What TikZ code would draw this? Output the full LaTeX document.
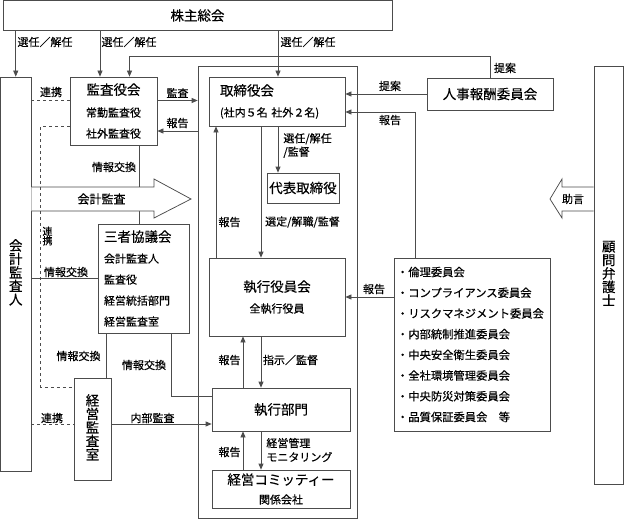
\documentclass[tikz,border=0pt]{standalone}
\usepackage{fontspec}
\setmainfont{Noto Sans CJK JP}[FakeBold=0.4]
\usetikzlibrary{positioning,arrows.meta}

\newcommand{\sm}{\fontsize{11}{21}\selectfont}
\newcommand{\ttl}{\fontsize{13.5}{16}\selectfont}
\newcommand{\tc}[1]{\hbox{\vrule height10.3pt depth3.2pt width0pt\smash{#1}}}
\newcommand{\tate}[1]{\vbox{\offinterlineskip\fontsize{13.5}{13.5}\selectfont #1}}

\begin{document}
\begin{tikzpicture}[x=1pt,y=-1pt,>={Triangle[length=6pt,width=5pt]},line width=0.75pt,
    box/.style={draw=black!70,inner sep=0pt,align=center,font=\sm},
    lbl/.style={font=\sm,inner sep=0pt},
    ln/.style={draw=black!70},
    lnk/.style={draw=black!70,dashed}]
     \useasboundingbox (0,0) rectangle (624,519);
     \node[box,minimum width=159,minimum height=452] (frame) at (277.5,292) {};
     \node[box,font=\ttl,minimum width=389,minimum height=30] (kabunushi) at (197.5,15.5) {株主総会};
     \node[box,minimum width=30.5,minimum height=394] (kaikei) at (15.75,274) {\tate{\tc{会}\tc{計}\tc{監}\tc{査}\tc{人}}};
     \node[box,minimum width=29.5,minimum height=418] (komon) at (608.75,275) {\tate{\tc{顧}\tc{問}\tc{弁}\tc{護}\tc{士}}};
     \node[box,minimum width=87,minimum height=68] (kansayaku) at (113.5,111) {{\ttl 監査役会}\\[1pt]常勤監査役\\社外監査役};
     \node[box,align=left,text width=114,inner xsep=11,minimum height=49] (torishimari) at (277,101.5) {{\ttl 取締役会}\\(社内５名 社外２名)};
     \node[box,font=\ttl,minimum width=126,minimum height=32] (jinji) at (490,94) {人事報酬委員会};
     \node[box,font=\ttl,minimum width=72,minimum height=30] (daihyo) at (303,188) {代表取締役};
     \node[box,minimum width=136,minimum height=78] (shikko) at (277,297) {{\ttl 執行役員会}\\全執行役員};
     \node[box,align=left,text width=79,inner xsep=6,minimum height=109] (sansha) at (143.5,278.5) {{\ttl 三者協議会}\\会計監査人\\監査役\\経営統括部門\\経営監査室};
     \node[box,align=left,text width=150,inner xsep=3,minimum height=173,font=\fontsize{11.3}{20.7}\selectfont] (iinkai) at (472,344.5)
        {・倫理委員会\\・コンプライアンス委員会\\・リスクマネジメント委員会\\・内部統制推進委員会\\・中央安全衛生委員会\\・全社環境管理委員会\\・中央防災対策委員会\\・品質保証委員会　等};
     \node[box,font=\ttl,minimum width=138,minimum height=43] (bumon) at (281,409.5) {執行部門};
     \node[box,minimum width=138,minimum height=38] (committee) at (281,489) {{\ttl 経営コミッティー}\\[-2pt]関係会社};
     \node[box,minimum width=37,minimum height=102] (keieikansa) at (92.5,429) {\tate{\tc{経}\tc{営}\tc{監}\tc{査}\tc{室}}};

     \draw[ln,->] (kabunushi.south -| kaikei.north) -- (kaikei.north);
     \draw[ln,->] (kabunushi.south -| 100,0) -- (kansayaku.north -| 100,0);
     \draw[ln,->] (kabunushi.south -| 278,0) -- (torishimari.north -| 278,0);
     \draw[ln,->] (jinji.north) |- (129.5,56) -- (kansayaku.north -| 129.5,0);
     \draw[lnk] (kaikei.east |- 0,100) -- (kansayaku.west |- 0,100);
     \draw[ln,->] (kansayaku.east |- 0,100.5) -- (frame.west |- 0,100.5);
     \draw[ln,->] (frame.west |- 0,131) -- (kansayaku.east |- 0,131);
     \draw[ln] (kansayaku.south -| 139,0) -- (sansha.north -| 139,0);
     \draw[ln,fill=white] (kaikei.east |- 0,187) -- (154,187) -- (154,179) -- (191,199) -- (154,218) -- (154,211) -- (kaikei.east |- 0,211);
     \draw[lnk] (kansayaku.west |- 0,126) -| (40.7,387) -- (keieikansa.west |- 0,387);
     \draw[ln] (kaikei.east |- 0,278) -- (sansha.west |- 0,278);
     \draw[ln] (sansha.south -| 106,0) -- (keieikansa.north -| 106,0);
     \draw[ln] (sansha.south -| 171,0) |- (bumon.west |- 0,396);
     \draw[lnk] (kaikei.east |- 0,424) -- (keieikansa.west |- 0,424);
     \draw[ln,->] (keieikansa.east |- 0,424) -- (bumon.west |- 0,424);
     \draw[ln,->] (jinji.west) -- (torishimari.east |- jinji.west);
     \draw[ln,->] (iinkai.north -| 415,0) |- (torishimari.east |- 0,112);
     \draw[ln,->] (iinkai.west |- 0,297) -- (shikko.east |- 0,297);
     \draw[ln,->] (shikko.north -| 216,0) -- (torishimari.south -| 216,0);
     \draw[ln,->] (torishimari.south -| 261,0) -- (shikko.north -| 261,0);
     \draw[ln,->] (torishimari.south -| 278,0) -- (daihyo.north -| 278,0);
     \draw[ln,->] (bumon.north -| 243,0) -- (shikko.south -| 243,0);
     \draw[ln,->] (shikko.south -| 261,0) -- (bumon.north -| 261,0);
     \draw[ln,->] (committee.north -| 243,0) -- (bumon.south -| 243,0);
     \draw[ln,->] (bumon.south -| 261,0) -- (committee.north -| 261,0);
     \draw[ln,fill=white] (komon.west |- 0,187) -- (562,187) -- (562,179) -- (550,199) -- (562,218) -- (562,211) -- (komon.west |- 0,211);

     \node[lbl] (l_sennin1) at (45,42) {選任／解任};
     \node[lbl] (l_sennin2) at (129,42) {選任／解任};
     \node[lbl] (l_sennin3) at (308,42) {選任／解任};
     \node[lbl] (l_teian1) at (505,68) {提案};
     \node[lbl] (l_renkei1) at (51,92) {連携};
     \node[lbl] (l_kansa) at (177.5,93) {監査};
     \node[lbl] (l_hokoku1) at (177.5,123) {報告};
     \node[lbl] (l_teian2) at (390,86) {提案};
     \node[lbl] (l_hokoku2) at (390,120) {報告};
     \node[lbl,align=left,font=\fontsize{11}{13.5}\selectfont,anchor=west] (l_sennin4) at (283,145.5) {選任/解任\\/監督};
     \node[lbl] (l_joho1) at (114,167) {情報交換};
     \node[lbl,font=\fontsize{12}{14}\selectfont] (l_kaikeikansa) at (101.5,199) {会計監査};
     \node[lbl] (l_jogen) at (573,199) {助言};
     \node[lbl] (l_hokoku3) at (229.5,222) {報告};
     \node[lbl] (l_sentei) at (302.5,222) {選定/解職/監督};
     \node[lbl,align=center,font=\fontsize{10}{9.5}\selectfont] (l_renkei2) at (47.5,236) {連\\携};
     \node[lbl] (l_joho2) at (66,272) {情報交換};
     \node[lbl] (l_hokoku4) at (374,289) {報告};
     \node[lbl] (l_joho3) at (78.5,356) {情報交換};
     \node[lbl] (l_hokoku5) at (229.5,360) {報告};
     \node[lbl] (l_shiji) at (290.5,360) {指示／監督};
     \node[lbl] (l_joho4) at (144,365) {情報交換};
     \node[lbl] (l_renkei3) at (52,418) {連携};
     \node[lbl] (l_naibu) at (152.5,418) {内部監査};
     \node[lbl] (l_hokoku6) at (229.5,452) {報告};
     \node[lbl,align=left,font=\fontsize{11}{14}\selectfont,anchor=west] (l_keiei) at (266,450) {経営管理\\モニタリング};
    \end{tikzpicture}
\end{document}
